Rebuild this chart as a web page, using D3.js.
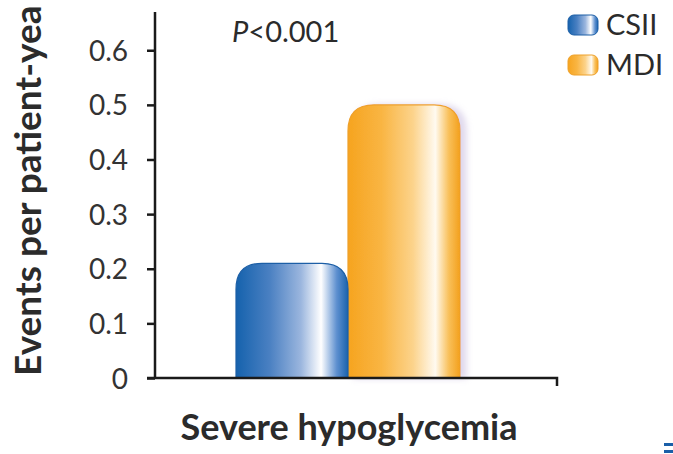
<!DOCTYPE html>
<html>
<head>
<meta charset="utf-8">
<script src="https://cdn.jsdelivr.net/npm/d3@7"></script>
<style>
  html, body { margin: 0; padding: 0; background: #fff; }
  svg { display: block; font-family: Lato, "Open Sans", sans-serif; }
</style>
</head>
<body>
<svg id="chart" width="673" height="454"></svg>
<script>
// ---- data ----
const categories = ["Severe hypoglycemia"];
const series = ["CSII", "MDI"];
const values = [0.21, 0.50];
const yTicks = [0, 0.1, 0.2, 0.3, 0.4, 0.5, 0.6];
const yTickLabels = ["0", "0.1", "0.2", "0.3", "0.4", "0.5", "0.6"];
const yTitle = "Events per patient-yea";   // as visible in the reference (cut at the top edge)
const pText = "<0.001";

// ---- styles ----
const palette = {
  CSII: [["0%", "#1562ad"], ["30%", "#4a80c2"], ["58%", "#9bb6de"], ["76%", "#ffffff"], ["90%", "#5d8fcf"], ["100%", "#1a63ae"]],
  MDI:  [["0%", "#f6a41f"], ["30%", "#f9b543"], ["58%", "#fcd38b"], ["78%", "#fffaf0"], ["90%", "#f9c05a"], ["100%", "#f3a01c"]]
};
const strokeCol = { CSII: "#1d5fa6", MDI: "#eea12a" };

const svg = d3.select("#chart");
const defs = svg.append("defs");
series.forEach(s => {
  const g = defs.append("linearGradient").attr("id", "grad-" + s)
    .attr("x1", "0%").attr("x2", "100%").attr("y1", "0%").attr("y2", "0%");
  palette[s].forEach(([o, c]) => g.append("stop").attr("offset", o).attr("stop-color", c));
});
const f = defs.append("filter").attr("id", "shadow").attr("x", "-20%").attr("y", "-20%").attr("width", "150%").attr("height", "140%");
f.append("feDropShadow").attr("dx", 6).attr("dy", 0).attr("stdDeviation", 3)
  .attr("flood-color", "#b9a9d6").attr("flood-opacity", 0.45);

// ---- scales ----
const y = d3.scaleLinear().domain([0, 0.67]).range([378, 12]);
const xOuter = d3.scaleBand().domain(categories).range([147, 557]);
const x = d3.scaleBand().domain(series).range([236, 460]).padding(0);

// ---- bars (rounded tops) ----
const r = 26;
function barPath(x0, w, yTop, yBase) {
  const rr = Math.min(r, (yBase - yTop), w / 2);
  return `M${x0},${yBase} L${x0},${yTop + rr} Q${x0},${yTop} ${x0 + rr},${yTop} ` +
         `L${x0 + w - rr},${yTop} Q${x0 + w},${yTop} ${x0 + w},${yTop + rr} L${x0 + w},${yBase} Z`;
}
const bars = svg.append("g");
series.slice().reverse().forEach(s => {
  const i = series.indexOf(s);
  bars.append("path")
    .attr("d", barPath(x(s), x.bandwidth(), y(values[i]), y(0)))
    .attr("fill", `url(#grad-${s})`)
    .attr("stroke", strokeCol[s])
    .attr("stroke-width", 1.2)
    .attr("filter", s === "MDI" ? "url(#shadow)" : null);
});

// ---- axes ----
const axisCol = "#1a1a1a";
const yAxis = d3.axisLeft(y).tickValues(yTicks).tickFormat((d, i) => yTickLabels[i]).tickSize(8).tickPadding(19);
const gy = svg.append("g").attr("transform", `translate(155,0)`).call(yAxis);
gy.select(".domain").attr("stroke", axisCol).attr("stroke-width", 2.5).attr("d", `M0,${y(0.67)}V${y(0)}`);
gy.selectAll(".tick line").attr("stroke", axisCol).attr("stroke-width", 2.5);
gy.selectAll(".tick text").attr("font-size", 28).attr("fill", "#333").attr("font-family", "Lato, sans-serif")
  .attr("dy", "0.36em");

// x baseline
svg.append("path")
  .attr("d", `M${xOuter.range()[0]},${y(0)}H${xOuter.range()[1]}V${y(0) + 8}`)
  .attr("fill", "none").attr("stroke", axisCol).attr("stroke-width", 2.5);

// x label
svg.append("text")
  .attr("x", xOuter(categories[0]) + xOuter.bandwidth() / 2 - 3)
  .attr("y", 440)
  .attr("text-anchor", "middle")
  .attr("font-size", 36).attr("font-weight", 700).attr("fill", "#2b2b2b")
  .text(categories[0]);

// y title
svg.append("text")
  .attr("transform", `translate(41,376) rotate(-90)`)
  .attr("text-anchor", "start")
  .attr("font-size", 37).attr("font-weight", 700).attr("fill", "#2b2b2b")
  .text(yTitle);

// P value
const pt = svg.append("text").attr("x", 232).attr("y", 42).attr("font-size", 29).attr("fill", "#2b2b2b");
pt.append("tspan").attr("font-style", "italic").text("P");
pt.append("tspan").text(pText);

// legend
const leg = svg.append("g");
series.forEach((s, i) => {
  const gy0 = 15 + i * 40;
  leg.append("rect").attr("x", 568).attr("y", gy0).attr("width", 30).attr("height", 20).attr("rx", 6)
    .attr("fill", `url(#grad-${s})`).attr("stroke", strokeCol[s]).attr("stroke-width", 1);
  leg.append("text").attr("x", 606).attr("y", gy0 + 20).attr("font-size", 29).attr("fill", "#2b2b2b").text(s);
});

// small decoration bottom-right
const deco = svg.append("g").attr("fill", "#1a5fa8");
deco.append("rect").attr("x", 664).attr("y", 443).attr("width", 9).attr("height", 3);
deco.append("rect").attr("x", 664).attr("y", 450).attr("width", 9).attr("height", 3);
</script>
</body>
</html>
